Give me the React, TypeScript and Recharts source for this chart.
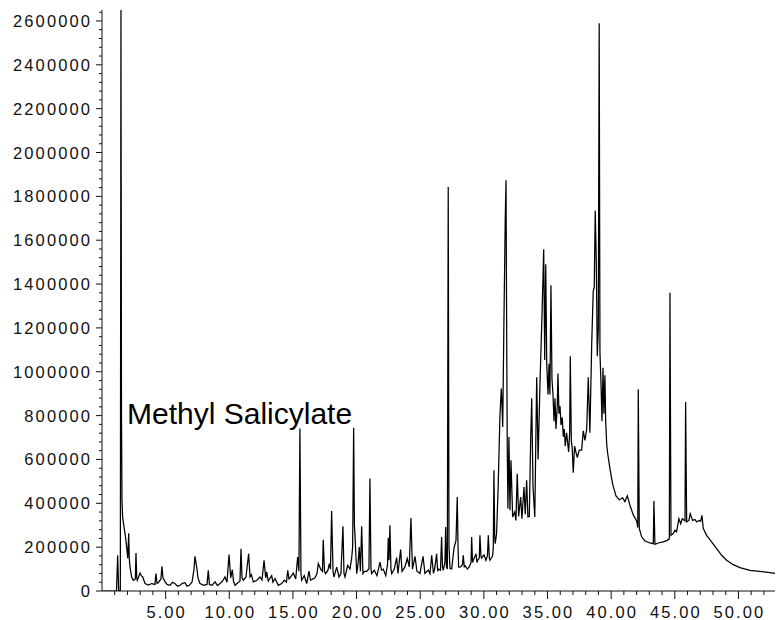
import React from "react";
import { LineChart, Line, XAxis, YAxis } from "recharts";

// Retention time (min) and abundance readings of the total ion chromatogram
const retentionTimes: number[] = [
  0, 1.14, 1.23, 1.31, 1.44, 1.49, 1.53, 1.57, 1.62, 1.73, 1.83, 1.94, 2.02, 2.1, 2.14, 2.2, 2.33, 2.46, 2.62, 2.67,
  2.73, 2.77, 2.99, 3.09, 3.2, 3.38, 3.64, 3.9, 4.16, 4.24, 4.32, 4.42, 4.63, 4.71, 4.79, 4.95, 5.11, 5.34, 5.54, 5.73,
  5.93, 6.13, 6.32, 6.52, 6.68, 6.86, 7.07, 7.23, 7.3, 7.44, 7.54, 7.7, 8.01, 8.25, 8.35, 8.44, 8.64, 8.88, 9.07, 9.27,
  9.47, 9.66, 9.82, 9.98, 10.11, 10.24, 10.33, 10.45, 10.68, 10.84, 10.92, 11.0, 11.1, 11.31, 11.52, 11.63, 11.74, 11.89, 12.15, 12.41,
  12.57, 12.73, 12.86, 12.94, 13.06, 13.33, 13.43, 13.59, 13.85, 14.12, 14.32, 14.49, 14.59, 14.69, 14.77, 15.03, 15.22, 15.37, 15.47, 15.55,
  15.63, 15.69, 15.89, 16.08, 16.26, 16.38, 16.47, 16.73, 16.89, 16.99, 17.18, 17.32, 17.38, 17.48, 17.57, 17.75, 17.86, 17.95, 18.04, 18.15,
  18.22, 18.44, 18.62, 18.77, 18.93, 19.01, 19.09, 19.3, 19.48, 19.61, 19.69, 19.77, 19.83, 19.87, 20.01, 20.11, 20.21, 20.3, 20.4, 20.5,
  20.62, 20.79, 20.97, 21.05, 21.13, 21.19, 21.39, 21.6, 21.84, 21.96, 22.1, 22.29, 22.43, 22.49, 22.55, 22.62, 22.7, 22.76, 22.96, 23.15,
  23.25, 23.46, 23.57, 23.8, 23.98, 24.14, 24.27, 24.39, 24.59, 24.74, 24.98, 25.22, 25.37, 25.63, 25.77, 25.9, 26.04, 26.13, 26.29, 26.37,
  26.45, 26.59, 26.68, 26.75, 26.81, 26.94, 27.0, 27.06, 27.13, 27.2, 27.26, 27.34, 27.47, 27.65, 27.81, 27.91, 27.97, 28.02, 28.18, 28.32,
  28.38, 28.46, 28.54, 28.7, 28.85, 28.99, 29.04, 29.11, 29.17, 29.38, 29.46, 29.51, 29.64, 29.69, 29.77, 29.82, 30.01, 30.16, 30.28, 30.35,
  30.43, 30.48, 30.69, 30.74, 30.79, 30.85, 30.89, 31.0, 31.13, 31.26, 31.37, 31.42, 31.48, 31.58, 31.68, 31.74, 31.79, 31.84, 31.89, 31.97,
  32.05, 32.13, 32.26, 32.42, 32.52, 32.62, 32.73, 32.89, 32.99, 33.15, 33.25, 33.36, 33.46, 33.57, 33.68, 33.76, 33.86, 34.0, 34.15, 34.26,
  34.41, 34.57, 34.7, 34.78, 34.86, 34.94, 35.04, 35.12, 35.19, 35.27, 35.35, 35.43, 35.51, 35.59, 35.66, 35.77, 35.82, 35.9, 35.98, 36.06,
  36.16, 36.24, 36.32, 36.39, 36.5, 36.66, 36.74, 36.79, 36.87, 36.94, 37.02, 37.13, 37.23, 37.34, 37.49, 37.68, 37.81, 37.94, 38.08, 38.2,
  38.33, 38.47, 38.59, 38.67, 38.75, 38.83, 38.91, 38.99, 39.06, 39.12, 39.2, 39.28, 39.36, 39.43, 39.51, 39.57, 39.65, 39.73, 39.91, 40.12,
  40.38, 40.64, 40.9, 41.08, 41.27, 41.48, 41.74, 42.0, 42.09, 42.13, 42.21, 42.4, 42.66, 43.05, 43.31, 43.36, 43.44, 43.7, 44.09, 44.41,
  44.57, 44.62, 44.7, 44.88, 45.01, 45.14, 45.32, 45.46, 45.59, 45.75, 45.8, 45.85, 45.93, 46.11, 46.21, 46.4, 46.58, 46.72, 46.9, 47.03,
  47.13, 47.24, 47.5, 47.89, 48.29, 48.68, 49.07, 49.59, 50.12, 50.9, 51.69, 52.47, 53.5,
];

const abundances: number[] = [
  0, 0, 163000, 0, 0, 2650000, 800000, 420000, 337000, 292000, 254000, 200000, 150000, 263000, 150000, 109000, 64000, 49000, 55000, 173000,
  60000, 49000, 82000, 70000, 64000, 34000, 27000, 34000, 30000, 79000, 35000, 38000, 55000, 113000, 60000, 43000, 30000, 26000, 40000, 34000,
  22000, 26000, 35000, 38000, 22000, 26000, 40000, 100000, 158000, 109000, 60000, 34000, 26000, 30000, 94000, 30000, 26000, 42000, 25000, 34000,
  45000, 64000, 40000, 166000, 60000, 97000, 45000, 26000, 38000, 45000, 193000, 60000, 49000, 64000, 170000, 64000, 75000, 42000, 48000, 64000,
  50000, 140000, 60000, 87000, 45000, 70000, 40000, 57000, 26000, 34000, 49000, 40000, 94000, 55000, 60000, 82000, 55000, 155000, 90000, 741000,
  80000, 49000, 70000, 34000, 91000, 50000, 52000, 60000, 80000, 125000, 100000, 90000, 234000, 90000, 79000, 95000, 125000, 100000, 365000, 90000,
  64000, 109000, 64000, 80000, 295000, 80000, 64000, 117000, 100000, 148000, 200000, 745000, 300000, 262000, 79000, 120000, 200000, 90000, 295000, 80000,
  90000, 90000, 100000, 513000, 100000, 79000, 95000, 70000, 132000, 95000, 100000, 70000, 120000, 243000, 140000, 300000, 100000, 79000, 100000, 152000,
  80000, 189000, 90000, 110000, 148000, 110000, 333000, 100000, 158000, 90000, 80000, 158000, 80000, 95000, 79000, 163000, 80000, 100000, 170000, 90000,
  100000, 95000, 246000, 110000, 94000, 130000, 292000, 110000, 100000, 1843000, 200000, 102000, 100000, 193000, 231000, 429000, 200000, 109000, 110000, 120000,
  163000, 110000, 115000, 100000, 110000, 130000, 246000, 130000, 140000, 170000, 130000, 140000, 150000, 254000, 160000, 150000, 165000, 140000, 160000, 254000,
  150000, 140000, 160000, 200000, 551000, 250000, 216000, 262000, 490000, 794000, 923000, 860000, 748000, 1250000, 1700000, 1873000, 1200000, 642000, 376000, 702000,
  368000, 596000, 338000, 360000, 322000, 535000, 340000, 429000, 330000, 474000, 350000, 505000, 338000, 340000, 702000, 879000, 474000, 338000, 975000, 600000,
  949000, 1263000, 1559000, 1054000, 1490000, 1036000, 896000, 1036000, 896000, 1394000, 966000, 896000, 774000, 879000, 739000, 844000, 992000, 809000, 844000, 757000,
  792000, 704000, 739000, 661000, 722000, 634000, 722000, 1071000, 687000, 652000, 539000, 661000, 634000, 608000, 643000, 643000, 731000, 687000, 739000, 975000,
  722000, 1123000, 1367000, 1385000, 1734000, 1507000, 1071000, 1193000, 2589000, 1088000, 949000, 774000, 1018000, 809000, 984000, 774000, 669000, 626000, 556000, 486000,
  434000, 416000, 425000, 408000, 434000, 390000, 347000, 320000, 290000, 920000, 286000, 246000, 228000, 219000, 216000, 410000, 213000, 219000, 224000, 231000,
  238000, 1360000, 254000, 262000, 277000, 270000, 330000, 307000, 330000, 322000, 320000, 862000, 315000, 322000, 353000, 322000, 326000, 315000, 322000, 318000,
  345000, 285000, 254000, 224000, 193000, 163000, 140000, 120000, 107000, 94000, 90000, 84000, 76000,
];

const xMajorTicks: number[] = [5, 10, 15, 20, 25, 30, 35, 40, 45, 50];
const yMajorTicks: number[] = [
  0, 200000, 400000, 600000, 800000, 1000000, 1200000, 1400000, 1600000, 1800000, 2000000, 2200000, 2400000, 2600000,
];
const xMinorStep = 1;
const yMinorStep = 40000;
const xDomain: [number, number] = [0, 53.5];
const yDomain: [number, number] = [0, 2650000];
const annotation = "Methyl Salicylate";

const data = retentionTimes.map((t, i) => ({ t, a: abundances[i] }));

const xTicks: number[] = [];
for (let v = xMinorStep; v <= xDomain[1]; v += xMinorStep) xTicks.push(v);
const yTicks: number[] = [];
for (let v = 0; v <= yDomain[1]; v += yMinorStep) yTicks.push(v);

const FONT = '"Liberation Sans", Arial, Helvetica, sans-serif';
const INK = "#111";

const YTick = (props: any) => {
  const { x, y, payload } = props;
  const v = payload.value as number;
  const major = yMajorTicks.includes(v);
  return (
    <g>
      <line x1={x - (major ? 6 : 3)} x2={x} y1={y} y2={y} stroke={INK} strokeWidth={1} />
      {major && (
        <text
          x={x - 10}
          y={y}
          dy={6}
          textAnchor="end"
          fontFamily={FONT}
          fontSize={16.5}
          letterSpacing={2.1}
          fill={INK}
        >
          {String(v)}
        </text>
      )}
    </g>
  );
};

const XTick = (props: any) => {
  const { x, y, payload } = props;
  const v = payload.value as number;
  const major = xMajorTicks.includes(v);
  return (
    <g>
      <line x1={x} x2={x} y1={y} y2={y + (major ? 8 : 4)} stroke={INK} strokeWidth={1} />
      {major && (
        <text
          x={x + 1}
          y={y + 27}
          textAnchor="middle"
          fontFamily={FONT}
          fontSize={16.5}
          letterSpacing={2.1}
          fill={INK}
        >
          {v.toFixed(2)}
        </text>
      )}
    </g>
  );
};

export default function App() {
  return (
    <div style={{ position: "relative", width: 775, height: 612 }}>
      <LineChart
        width={775}
        height={612}
        data={data}
        margin={{ top: 2, right: 0, bottom: 0, left: 0 }}
        style={{ background: "#fff" }}
      >
        <XAxis
          dataKey="t"
          type="number"
          domain={xDomain}
          ticks={xTicks}
          interval={0}
          tickSize={0}
          tickMargin={0}
          tick={<XTick />}
          height={29}
          axisLine={{ stroke: INK, strokeWidth: 1 }}
          allowDataOverflow
        />
        <YAxis
          type="number"
          domain={yDomain}
          ticks={yTicks}
          interval={0}
          tickSize={0}
          tickMargin={0}
          tick={<YTick />}
          width={94}
          axisLine={{ stroke: INK, strokeWidth: 1 }}
          allowDataOverflow
        />
        <Line
          type="linear"
          dataKey="a"
          stroke="#000"
          strokeWidth={1.25}
          dot={false}
          activeDot={false}
          isAnimationActive={false}
        />
      </LineChart>
      <svg
        width={775}
        height={612}
        style={{ position: "absolute", left: 0, top: 0, pointerEvents: "none" }}
      >
        <text x={119} y={416} fontFamily={FONT} fontSize={30} fill="#000">
          {annotation}
        </text>
      </svg>
    </div>
  );
}
